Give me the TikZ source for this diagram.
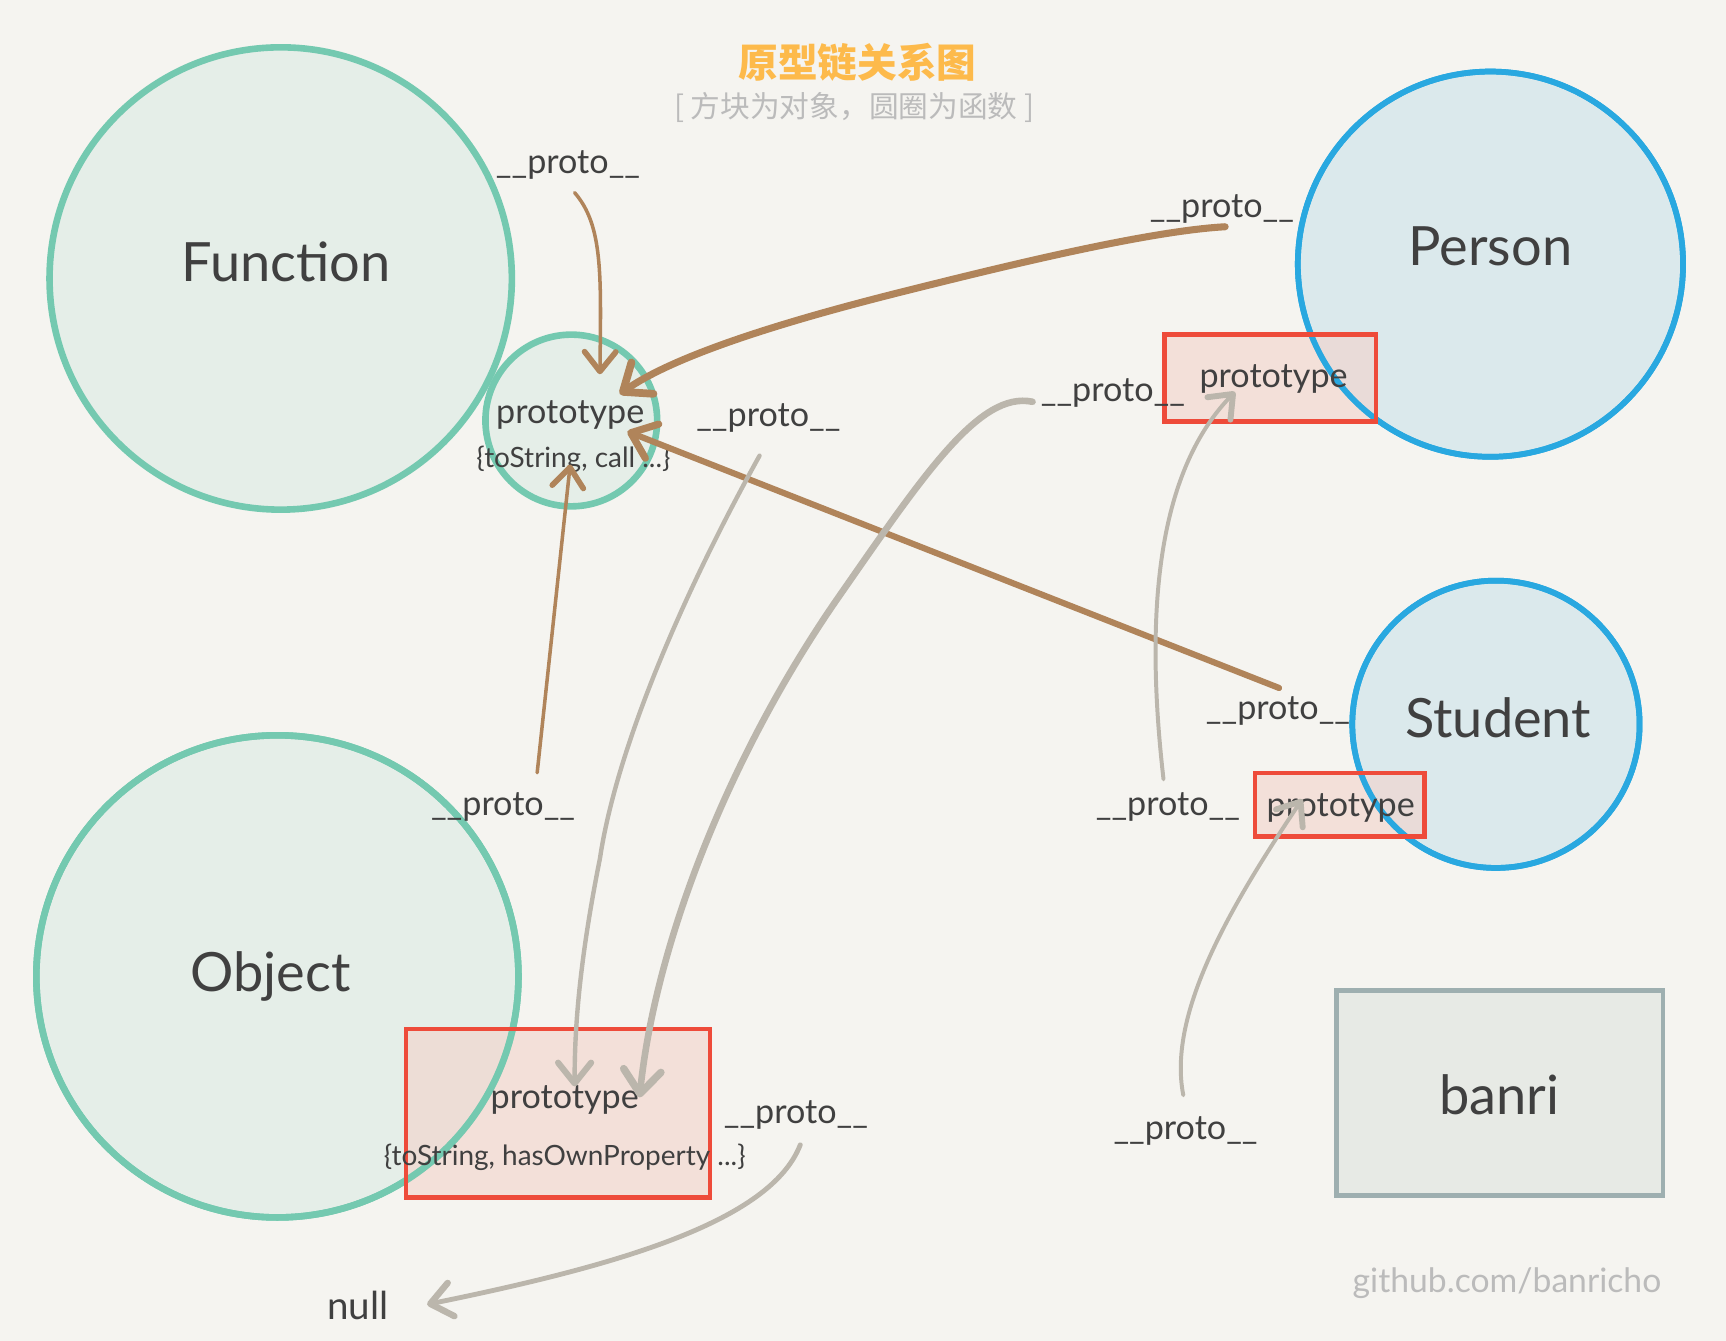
\documentclass[tikz,border=0pt]{standalone}
\usepackage{fontspec}
\setmainfont{Lato}
\newfontfamily\cjk{Noto Sans CJK SC}
\usetikzlibrary{arrows.meta}
\definecolor{bg}{HTML}{F5F4F0}
\definecolor{greenS}{HTML}{74C9B0}
\definecolor{greenF}{HTML}{E5EEE8}
\definecolor{blueS}{HTML}{29A8E0}
\definecolor{blueF}{HTML}{DBE9EC}
\definecolor{redS}{HTML}{EE4B3A}
\definecolor{redF}{HTML}{F3D3CB}
\definecolor{brownA}{HTML}{B0845A}
\definecolor{grayA}{HTML}{BBB6AC}
\definecolor{banriS}{HTML}{9EAFB0}
\definecolor{banriF}{HTML}{E7EAE5}
\definecolor{txt}{HTML}{404040}
\definecolor{titleC}{HTML}{FDBA4B}
\definecolor{lightT}{HTML}{BBBBBB}
\tikzset{
  fcircle/.style={circle, inner sep=0pt, fill=greenF, draw=greenS, line width=3pt},
  pcircle/.style={circle, inner sep=0pt, fill=blueF, draw=blueS, line width=2.6pt},
  gring/.style={circle, inner sep=0pt, draw=greenS, line width=3pt},
  bring/.style={circle, inner sep=0pt, draw=blueS, line width=2.6pt},
  protobox/.style={rectangle, inner sep=0pt, fill=redF, fill opacity=0.6, draw=redS, draw opacity=1, line width=2pt},
  redframe/.style={rectangle, inner sep=0pt, draw=redS, line width=2pt},
  banribox/.style={rectangle, inner sep=0pt, fill=banriF, draw=banriS, line width=2pt},
  bigtxt/.style={text=txt, font=\fontsize{24.6}{29}\selectfont},
  midtxt/.style={text=txt, font=\fontsize{15.5}{18}\selectfont, yshift=-1pt},
  smalltxt/.style={text=txt, font=\fontsize{12.7}{15}\selectfont, yshift=-0.5pt},
  tip/.style={-{Straight Barb[length=7pt 1.2,width=11pt 2,line width=1.6pt 0.6,line cap=round,round]}},
  brownarrow/.style={tip, draw=brownA, line cap=round},
  grayarrow/.style={tip, draw=grayA, line cap=round},
}
\begin{document}
\begin{tikzpicture}[x=0.5pt,y=-0.5pt]
\fill[bg] (0,0) rectangle (1568,1218);
\useasboundingbox (0,0) rectangle (1568,1218);

% title
\node[text=titleC, font=\cjk\bfseries\fontsize{18}{22}\selectfont] (title) at (779,57) {原型链关系图};
\node[text=lightT, font=\cjk\fontsize{13.5}{16}\selectfont] (subtitle) at (776,98) {[ 方块为对象，圆圈为函数 ]};

% circles
\node[fcircle, minimum size=210pt] (fun) at (255,253) {};
\node[fcircle, minimum size=78pt] (fproto) at (519,382) {};
\node[fcircle, minimum size=219pt] (obj) at (252,887) {};
\node[pcircle, minimum size=175pt] (person) at (1354,240) {};
\node[pcircle, minimum size=130.5pt] (student) at (1359,658) {};

% boxes
\node[protobox, minimum width=138pt, minimum height=76.5pt] (oprotoF) at (507,1011.5) {};
\node[protobox, minimum width=96pt, minimum height=39.5pt] (pprotoF) at (1154,343.5) {};
\node[protobox, minimum width=77pt, minimum height=29pt] (sprotoF) at (1217,731) {};
\node[banribox, minimum width=148.5pt, minimum height=93pt] (banri) at (1362.5,993) {};

% circle outlines visible through boxes, then box frames
\node[gring, minimum size=219pt] (objring) at (obj.center) {};
\node[bring, minimum size=175pt] (personring) at (person.center) {};
\node[bring, minimum size=130.5pt] (studentring) at (student.center) {};
\node[redframe, minimum width=138pt, minimum height=76.5pt] (oproto) at (oprotoF.center) {};
\node[redframe, minimum width=96pt, minimum height=39.5pt] (pproto) at (pprotoF.center) {};
\node[redframe, minimum width=77pt, minimum height=29pt] (sproto) at (sprotoF.center) {};

% texts
\node[bigtxt] (funT) at (260,238) {Function};
\node[bigtxt] (objT) at (246,887) {Object};
\node[bigtxt] (personT) at (1354,224) {Person};
\node[bigtxt] (studentT) at (1361,652) {Student};
\node[bigtxt] (banriT) at (1362,995) {banri};
\node[midtxt] (fprotoT) at (518,375) {prototype};
\node[smalltxt] (fprotoS) at (521,416) {\{toString, call ...\}};
\node[midtxt] (oprotoT) at (513,997) {prototype};
\node[smalltxt] (oprotoS) at (513,1050) {\{toString, hasOwnProperty ...\}};
\node[midtxt] (pprotoT) at (1157,342) {prototype};
\node[midtxt] (sprotoT) at (1218,732) {prototype};
\node[text=txt, font=\fontsize{17.5}{21}\selectfont] (null) at (325,1186) {null};
\node[text=lightT, font=\fontsize{15.3}{18}\selectfont] (github) at (1369,1166) {github.com/banricho};

\node[midtxt] (p1) at (516,148) {\_\_proto\_\_};
\node[midtxt] (p2) at (1110,188) {\_\_proto\_\_};
\node[midtxt] (p3) at (698,378) {\_\_proto\_\_};
\node[midtxt] (p4) at (1011,355) {\_\_proto\_\_};
\node[midtxt] (p5) at (1161,644) {\_\_proto\_\_};
\node[midtxt] (p6) at (457,731) {\_\_proto\_\_};
\node[midtxt] (p7) at (1061,731) {\_\_proto\_\_};
\node[midtxt] (p8) at (723,1011) {\_\_proto\_\_};
\node[midtxt] (p9) at (1077,1025) {\_\_proto\_\_};

% arrow end points
\coordinate (a1s) at (522,175);  \coordinate (a1e) at (545,340);
\coordinate (a2s) at (1113,206); \coordinate (a2e) at (563,358);
\coordinate (a3s) at (1162,625); \coordinate (a3e) at (570,392);
\coordinate (a4s) at (488,702);  \coordinate (a4e) at (518,422);
\coordinate (a5s) at (690,414);  \coordinate (a5e) at (522,987);
\coordinate (a6s) at (938,365);  \coordinate (a6e) at (581,997);
\coordinate (a7s) at (1057,708); \coordinate (a7e) at (1122,356);
\coordinate (a8s) at (1075,995); \coordinate (a8e) at (1183,726);
\coordinate (a9s) at (727,1040); \coordinate (a9e) at (388,1185);

% brown arrows
\draw[brownarrow, line width=1.6pt] (a1s) .. controls (548,205) and (546,250) .. (a1e);
\draw[brownarrow, line width=3.2pt] (a2s) .. controls (1040,210) and (900,245) .. (820,265) .. controls (700,295) and (610,325) .. (a2e);
\draw[brownarrow, line width=2.8pt] (a3s) -- (a3e);
\draw[brownarrow, line width=1.6pt] (a4s) -- (a4e);

% gray arrows
\draw[grayarrow, line width=2pt] (a5s) .. controls (620,540) and (560,680) .. (545,780) .. controls (525,880) and (522,940) .. (a5e);
\draw[grayarrow, line width=3pt] (a6s) .. controls (890,355) and (840,430) .. (760,545) .. controls (660,690) and (595,860) .. (a6e);
\draw[grayarrow, line width=1.8pt] (a7s) .. controls (1040,560) and (1050,430) .. (a7e);
\draw[grayarrow, line width=1.8pt] (a8s) .. controls (1060,920) and (1120,820) .. (a8e);
\draw[grayarrow, line width=2.2pt] (a9s) .. controls (700,1110) and (560,1150) .. (a9e);
\end{tikzpicture}
\end{document}
